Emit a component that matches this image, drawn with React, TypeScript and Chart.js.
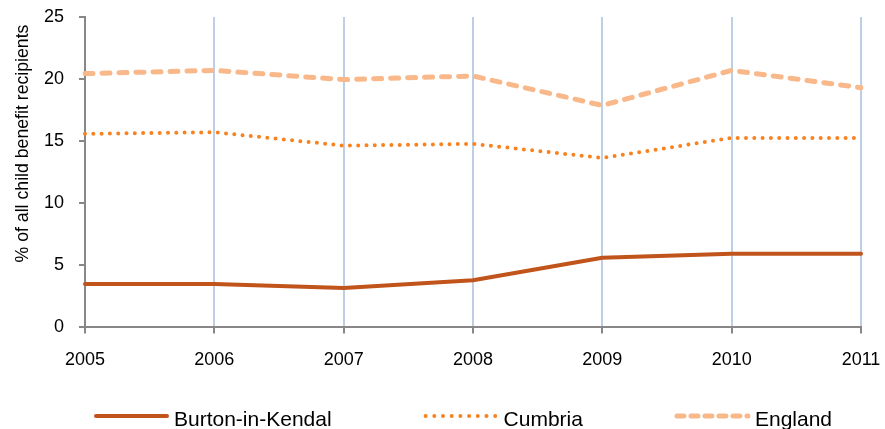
import React, { useEffect, useRef } from "react";
import { Chart, registerables } from "chart.js";

Chart.register(...registerables);

const years = ["2005", "2006", "2007", "2008", "2009", "2010", "2011"];
const burton = [3.5, 3.5, 3.18, 3.8, 5.61, 5.93, 5.93];
const cumbria = [15.59, 15.72, 14.64, 14.78, 13.65, 15.26, 15.26];
const england = [20.44, 20.7, 19.96, 20.25, 17.88, 20.7, 19.31];
const yTitle = "% of all child benefit recipients";

const FONT = "'Liberation Sans', Arial, sans-serif";

const customDraw = {
  id: "customDraw",
  afterDraw(chart: any) {
    const ctx = chart.ctx;
    ctx.save();
    ctx.fillStyle = "#000";
    ctx.font = `17.7px ${FONT}`;
    ctx.textAlign = "center";
    ctx.textBaseline = "alphabetic";
    ctx.translate(27.5, 143.5);
    ctx.rotate(-Math.PI / 2);
    ctx.fillText(yTitle, 0, 0);
    ctx.restore();

    ctx.save();
    ctx.font = `21px ${FONT}`;
    const lineLen = 71;
    const gapText = 7;
    const itemGap = 94;
    let x = 96;
    const ly = 416;
    chart.data.datasets.forEach((ds: any) => {
      ctx.save();
      ctx.strokeStyle = ds.borderColor;
      ctx.lineWidth = ds.borderWidth;
      ctx.lineCap = ds.borderCapStyle || "butt";
      ctx.setLineDash(ds.legendDash || ds.borderDash || []);
      ctx.beginPath();
      ctx.moveTo(x, ly);
      ctx.lineTo(x + lineLen, ly);
      ctx.stroke();
      ctx.restore();
      const tx = x + lineLen + gapText;
      ctx.fillStyle = "#000";
      ctx.textAlign = "left";
      ctx.textBaseline = "alphabetic";
      ctx.fillText(ds.label, tx, 425.5);
      x = tx + ctx.measureText(ds.label).width + itemGap;
    });
    ctx.restore();
  },
};

export default function App() {
  const ref = useRef<HTMLCanvasElement>(null);
  useEffect(() => {
    if (!ref.current) return;
    const chart = new Chart(ref.current, {
      type: "line",
      data: {
        labels: years,
        datasets: [
          {
            label: "Burton-in-Kendal",
            data: burton,
            borderColor: "#c0541b",
            borderWidth: 4,
            pointRadius: 0,
            tension: 0,
            borderCapStyle: "round",
            borderJoinStyle: "round",
          } as any,
          {
            label: "Cumbria",
            data: cumbria,
            borderColor: "#f7821f",
            borderWidth: 4,
            borderDash: [0, 8.3],
            legendDash: [0, 8.7],
            borderCapStyle: "round",
            borderJoinStyle: "round",
            pointRadius: 0,
            tension: 0,
          } as any,
          {
            label: "England",
            data: england,
            borderColor: "#f9b88a",
            borderWidth: 5,
            borderDash: [8, 9],
            legendDash: [7, 7],
            borderCapStyle: "round",
            borderJoinStyle: "round",
            pointRadius: 0,
            tension: 0,
          } as any,
        ],
      },
      options: {
        responsive: false,
        animation: false,
        layout: { padding: { top: 17, right: 24, left: 0, bottom: 42 } },
        plugins: {
          legend: { display: false },
          tooltip: { enabled: false },
        },
        scales: {
          x: {
            offset: false,
            afterFit: (s: any) => {
              s.paddingLeft = 0;
              s.paddingRight = 0;
              s.paddingTop = 0;
              s.paddingBottom = 0;
            },
            grid: {
              color: "#bccfe6",
              lineWidth: 2,
              tickColor: "#878787",
              tickLength: 6,
              drawOnChartArea: true,
            },
            border: { color: "#878787", width: 2 },
            ticks: {
              color: "#000",
              font: { family: FONT, size: 18 },
              padding: 16,
              maxRotation: 0,
            },
          },
          y: {
            min: 0,
            max: 25,
            afterFit: (s: any) => {
              s.width = 85;
              s.paddingLeft = 0;
              s.paddingRight = 0;
              s.paddingTop = 0;
              s.paddingBottom = 0;
            },
            grid: {
              drawOnChartArea: false,
              tickColor: "#878787",
              tickLength: 6,
              lineWidth: 2,
            },
            border: { color: "#878787", width: 2 },
            ticks: {
              stepSize: 5,
              color: "#000",
              font: { family: FONT, size: 18 },
              padding: 15,
            },
          },
        },
      },
      plugins: [customDraw],
    });
    return () => chart.destroy();
  }, []);
  return (
    <div style={{ position: "fixed", left: 0, top: 0, width: 885, height: 429, background: "#fff" }}>
      <canvas ref={ref} width={885} height={429} style={{ display: "block" }} />
    </div>
  );
}
